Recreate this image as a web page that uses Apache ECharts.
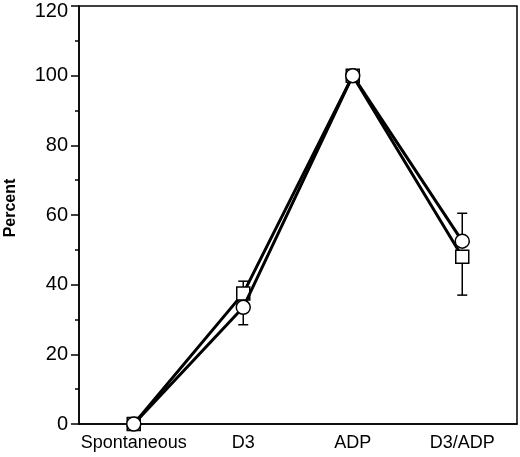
<!DOCTYPE html>
<html>
<head>
<meta charset="utf-8">
<script src="https://cdn.jsdelivr.net/npm/echarts@6/dist/echarts.min.js"></script>
<style>
  html, body { margin: 0; padding: 0; background: #fff; }
  #main { width: 520px; height: 457px; }
</style>
</head>
<body>
<div id="main"></div>
<script>
// data
var categories = ['Spontaneous', 'D3', 'ADP', 'D3/ADP'];
var squareValues = [0, 37.5, 100, 48];
var squareLow = [0, 37.5, 100, 37];     // visible error-bar ends
var squareHigh = [0, 41, 100, 48];
var circleValues = [0, 33.5, 100, 52.5];
var circleLow = [0, 28.5, 100, 52.5];
var circleHigh = [0, 33.5, 100, 60.5];
var yTicks = [0, 20, 40, 60, 80, 100, 120];

var myChart = echarts.init(document.getElementById('main'));

function errorData(vals, lo, hi) {
    var out = [];
    for (var i = 0; i < vals.length; i++) {
        if (hi[i] > lo[i]) out.push([i, lo[i], hi[i], vals[i]]);
    }
    return out;
}

function renderError(params, api) {
    var lo = api.coord([api.value(0), api.value(1)]);
    var hi = api.coord([api.value(0), api.value(2)]);
    var w = 5;
    var st = { stroke: '#000', lineWidth: 1.5 };
    return {
        type: 'group',
        children: [
            { type: 'line', shape: { x1: lo[0], y1: lo[1], x2: hi[0], y2: hi[1] }, style: st },
            { type: 'line', shape: { x1: lo[0] - w, y1: lo[1], x2: lo[0] + w, y2: lo[1] }, style: st },
            { type: 'line', shape: { x1: hi[0] - w, y1: hi[1], x2: hi[0] + w, y2: hi[1] }, style: st }
        ]
    };
}

var yMax = yTicks[yTicks.length - 1];

var option = {
    animation: false,
    backgroundColor: '#fff',
    textStyle: { fontFamily: 'Liberation Sans, Arial, sans-serif' },
    grid: {
        left: 79, right: 3, top: 6, bottom: 33,
        containLabel: false,
        outerBoundsMode: 'none',
        show: true, borderColor: '#000', borderWidth: 1.5, backgroundColor: 'transparent'
    },
    xAxis: {
        type: 'category',
        data: categories,
        boundaryGap: true,
        axisLine: { lineStyle: { color: '#000', width: 1.5 } },
        axisTick: { alignWithLabel: true, interval: 0, length: 7, lineStyle: { color: '#000', width: 1.5 } },
        axisLabel: { color: '#000', fontSize: 18, margin: 10, interval: 0 },
        splitLine: { show: false }
    },
    yAxis: {
        type: 'value',
        min: yTicks[0],
        max: yMax,
        interval: 20,
        name: 'Percent',
        nameLocation: 'middle',
        nameGap: 60,
        nameTextStyle: { color: '#000', fontSize: 16, fontWeight: 'bold', padding: [0, 0, 0, 14] },
        axisLine: { show: true, lineStyle: { color: '#000', width: 1.5 } },
        axisTick: { show: true, length: 8, lineStyle: { color: '#000', width: 1.5 } },
        minorTick: { show: true, splitNumber: 2, length: 4, lineStyle: { color: '#000', width: 1.5 } },
        axisLabel: {
            color: '#000', fontSize: 20, margin: 11,
            formatter: function (v) { return v === yMax ? '{t|' + v + '}' : String(v); },
            rich: { t: { fontSize: 20, color: '#000', padding: [10, 0, 0, 0] } }
        },
        splitLine: { show: false }
    },
    series: [
        {
            type: 'custom',
            renderItem: renderError,
            data: errorData(squareValues, squareLow, squareHigh),
            encode: { x: 0, y: [1, 2] },
            z: 1
        },
        {
            type: 'custom',
            renderItem: renderError,
            data: errorData(circleValues, circleLow, circleHigh),
            encode: { x: 0, y: [1, 2] },
            z: 1
        },
        {
            name: 'square',
            type: 'line',
            data: squareValues,
            symbol: 'rect',
            symbolSize: 13,
            showAllSymbol: true,
            lineStyle: { color: '#000', width: 3 },
            itemStyle: { color: '#fff', borderColor: '#000', borderWidth: 1.5 },
            z: 3
        },
        {
            name: 'circle',
            type: 'line',
            data: circleValues,
            symbol: 'circle',
            symbolSize: 14,
            showAllSymbol: true,
            lineStyle: { color: '#000', width: 3 },
            itemStyle: { color: '#fff', borderColor: '#000', borderWidth: 1.5 },
            z: 4
        }
    ]
};

myChart.setOption(option);
</script>
</body>
</html>
